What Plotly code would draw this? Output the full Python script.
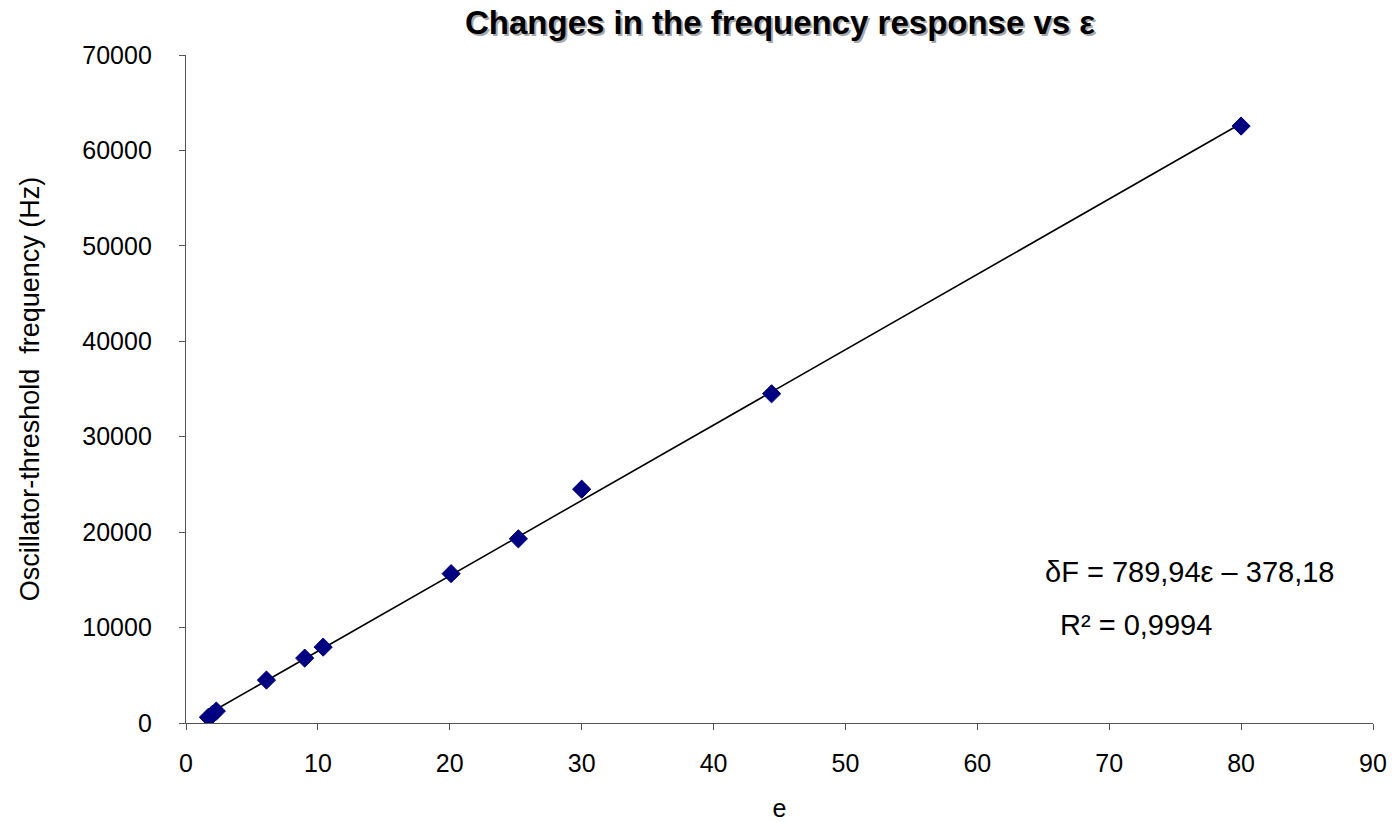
import plotly.graph_objects as go

# Measured permittivity (e) and oscillator-threshold frequency (Hz)
eps = [1.7, 2.0, 2.3, 6.1, 9.0, 10.4, 20.1, 25.2, 30.0, 44.4, 80.0]
freq = [600, 900, 1250, 4500, 6800, 7950, 15650, 19300, 24500, 34500, 62550]

# Linear trend coefficients
slope = 789.94
intercept = -378.18
fit_x = [min(eps), max(eps)]
fit_y = [slope * x + intercept for x in fit_x]

title_text = "Changes in the frequency response vs ε"
eq_text = "δF = 789,94ε – 378,18"
r2_text = "R² = 0,9994"

FONT = "Liberation Sans, Arial, sans-serif"

fig = go.Figure()
fig.add_trace(go.Scatter(
    x=fit_x, y=fit_y, mode="lines",
    line=dict(color="black", width=1.6),
    hoverinfo="skip", showlegend=False,
))
fig.add_trace(go.Scatter(
    x=eps, y=freq, mode="markers",
    marker=dict(symbol="diamond", size=14, color="#000080",
                line=dict(color="#000080", width=1)),
    showlegend=False,
))

axis_common = dict(
    showgrid=False, zeroline=False, automargin=False,
    showline=True, linecolor="#555555", linewidth=1.3,
    ticks="outside", ticklen=6, tickcolor="#555555", tickwidth=1.3,
    tickfont=dict(family=FONT, size=25, color="black"),
)

fig.update_xaxes(
    range=[0, 90], dtick=10, tick0=0, ticklabelstandoff=12, **axis_common,
    title=dict(text="e", font=dict(family=FONT, size=25, color="black"), standoff=33),
)
fig.update_yaxes(
    range=[0, 70000], dtick=10000, tick0=0, ticklabelstandoff=22, **axis_common,
    tickformat="d",
    title=dict(text="Oscillator-threshold  frequency (Hz)",
               font=dict(family=FONT, size=27, color="black"), standoff=34),
)

# Title with a soft drop shadow
for dx, dy, col in [(2, -2, "rgba(110,110,110,0.6)"), (0, 0, "black")]:
    fig.add_annotation(
        text="<b>" + title_text + "</b>", xref="paper", yref="paper",
        x=0.5, y=1.0, xanchor="center", yanchor="middle", yshift=33 + dy, xshift=dx,
        showarrow=False, font=dict(family=FONT, size=33, color=col),
    )

fig.add_annotation(
    text=eq_text, xref="paper", yref="paper", x=0.722, xanchor="left",
    y=(723 - 572) / 668, yanchor="middle", showarrow=False,
    font=dict(family=FONT, size=29, color="black"),
)
fig.add_annotation(
    text=r2_text, xref="paper", yref="paper", x=0.7346, xanchor="left",
    y=(723 - 625) / 668, yanchor="middle", showarrow=False,
    font=dict(family=FONT, size=29, color="black"),
)

fig.update_layout(
    width=1392, height=822,
    margin=dict(l=186, r=19, t=55, b=99),
    paper_bgcolor="white", plot_bgcolor="white",
    font=dict(family=FONT, color="black"),
)

fig.write_html("out.html")
